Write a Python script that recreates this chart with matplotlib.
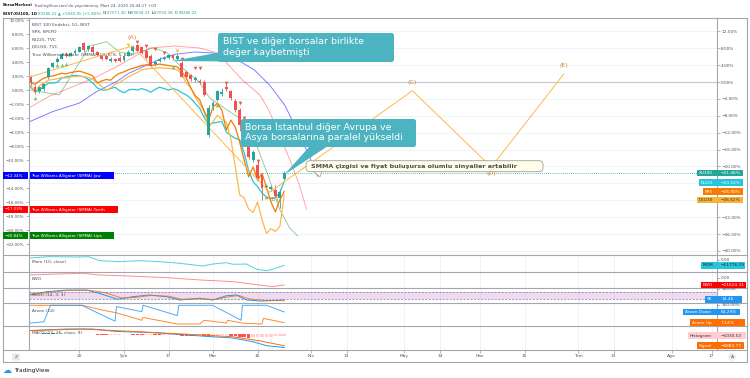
import numpy as np
import matplotlib.pyplot as plt
from matplotlib.patches import Rectangle, Polygon, FancyBboxPatch, Circle

plt.rcParams['font.family'] = ['DejaVu Sans']

W, H = 750, 378

# ---------------- veriler (gün indeksi 0 = 3 Ocak 2020) ----------------
# BIST 100 mumları, sol eksen % değerleri
xu_open = [1.8, 0.5, -0.2, 0.1, 1.8, 3.3, 4.0, 4.5, 5.2, 4.9,
           5.3, 5.5, 6.7, 5.8, 6.2, 5.4, 4.8, 4.9, 4.2, 4.4,
           4.6, 4.3, 4.9, 5.6, 6.4, 6.2, 5.6, 4.9, 3.7, 4.1,
           4.5, 4.6, 5.0, 4.5, 3.9, 2.6, 2.1, 1.5, 1.3, 1.2,
           -6.4, -2.3, -1.4, -0.6, 0.5, -0.2, -1.6, -2.9, -5.0, -7.1,
           -10.0, -10.7, -12.1, -13.9, -14.1, -14.3, -15.4, -12.7]
xu_close = [1.0, -0.3, 0.4, 0.8, 3.1, 3.8, 4.5, 5.1, 4.9, 5.3,
            5.6, 6.2, 5.7, 6.3, 5.5, 5.0, 4.5, 4.5, 4.5, 4.2,
            4.2, 4.9, 5.5, 6.2, 5.6, 5.3, 4.6, 3.5, 4.0, 4.4,
            4.6, 5.0, 4.6, 4.9, 1.9, 1.9, 1.6, 1.7, 1.1, -0.7,
            -2.5, -1.9, -0.2, -0.3, 0.2, -1.2, -2.9, -5.0, -5.7, -9.5,
            -8.8, -12.6, -14.0, -13.7, -13.9, -15.1, -14.5, -11.8]
xu_high = [2.1, 0.7, 0.6, 1.0, 3.3, 4.0, 4.7, 5.3, 5.4, 5.5,
           5.8, 6.3, 6.9, 6.5, 6.4, 5.6, 5.0, 5.1, 4.7, 4.6,
           4.8, 5.1, 5.7, 6.4, 6.6, 6.3, 5.8, 5.1, 4.3, 4.7,
           4.9, 5.2, 5.2, 5.1, 4.1, 2.8, 2.3, 2.0, 1.6, 1.4,
           -2.2, -1.5, 0.0, 0.3, 0.8, 0.0, -1.3, -2.6, -4.7, -6.8,
           -8.5, -10.3, -11.8, -13.4, -13.6, -13.6, -14.2, -11.6]
xu_low = [0.7, -0.5, -0.4, -0.1, 1.6, 3.2, 3.9, 4.4, 4.7, 4.8,
          5.1, 5.4, 5.5, 5.6, 5.3, 4.8, 4.3, 4.3, 4.0, 4.0,
          4.0, 4.2, 4.8, 5.5, 5.4, 5.1, 4.4, 3.3, 3.5, 4.0,
          4.3, 4.4, 4.4, 4.3, 1.8, 1.6, 1.3, 1.2, 0.8, -0.9,
          -6.7, -2.8, -1.6, -0.8, -0.1, -1.4, -3.2, -5.8, -6.1, -9.8,
          -10.3, -13.0, -15.7, -14.2, -14.4, -15.3, -16.8, -12.9]

# karşılaştırma sembolleri (sol eksen %)
spx = [1.1, 0.8, 1.3, 1.7, 1.9, 2.0, 2.2, 2.4, 2.3, 2.5,
       2.6, 2.7, 2.5, 2.3, 2.0, 1.0, 1.3, 1.5, 1.4, 2.0,
       2.4, 2.6, 2.9, 3.1, 3.3, 3.5, 3.6, 3.5, 3.6, 3.7,
       3.6, 3.5, 3.4, 3.3, 2.6, 1.7, 0.3, -0.8, -1.4, -3.0,
       -4.3, -2.4, -1.9, -2.9, -5.7, -4.3, -5.3, -7.5, -10.0, -12.4,
       -11.0, -12.9, -11.9, -13.9, -16.0, -17.4, -15.7, -14.5]
ni225 = [0.6, -0.3, 0.0, 0.5, 1.0, 1.0, 1.1, 1.7, 1.9, 2.0,
         2.1, 2.0, 1.9, 1.5, 1.0, 0.3, 0.0, 0.0, 0.2, 0.4,
         -0.1, -0.4, 0.0, 0.1, 0.0, 0.2, 0.0, -0.3, 0.1, 0.4,
         0.2, 0.0, 0.2, 0.0, -0.4, -0.7, -1.2, -1.9, -2.6, -3.9,
         -5.0, -4.7, -4.6, -4.5, -6.0, -6.5, -6.9, -7.1, -9.0, -11.5,
         -13.1, -13.8, -14.7, -15.3, -15.5, -15.4, -14.6, -13.1]
deu30 = [0.4, -0.3, 0.6, 1.0, 1.4, 1.5, 1.6, 1.8, 1.7, 1.9,
         1.9, 2.0, 1.9, 1.8, 1.5, 1.1, 0.5, 0.0, 0.3, 0.8,
         1.1, 1.5, 1.9, 2.2, 2.5, 2.9, 3.0, 3.1, 3.1, 3.2,
         3.1, 3.1, 3.0, 2.9, 2.2, 1.0, 0.3, -1.0, -2.0, -3.1,
         -5.3, -4.5, -3.6, -4.2, -4.6, -7.0, -11.0, -15.0, -15.4, -17.0,
         -17.5, -16.0, -18.5, -20.5, -19.8, -20.2, -19.5, -15.0]

# Alligator (ileri kaydırılmış)
jaw_x = [-0.2, 4.9, 11.0, 14.8, 19.3, 22.2, 26.1, 29.7, 32.8, 36.9, 40.9, 45.8, 50.3, 53.7, 57.1, 60.4, 62.7, 64.5]
jaw = [-4.53, -3.1, -1.86, -0.24, 1.19, 2.43, 3.57, 4.57, 5.14, 5.43, 5.29, 4.57, 2.86, 0.71, -2.14, -6.43, -9.57, -12.34]
teeth_x = [0, 4.3, 11.0, 14.8, 20.0, 26.7, 32.4, 38.0, 42.0, 47.6, 51.5, 53.3, 56.0, 58.7, 60.4, 62.0]
teeth = [-2.43, -0.86, 0.86, 1.86, 3.57, 6.0, 6.29, 6.0, 5.29, 1.43, -0.7, -2.6, -6.4, -10.7, -13.57, -17.03]
lips_x = [0, 6.5, 8.8, 13.3, 17.1, 20.0, 22.9, 27.4, 30.6, 34.2, 38.0, 40.2, 43.6, 47.0, 50.3, 53.3, 56.0, 58.2, 60.0]
lips = [0.0, -0.7, 1.7, 6.3, 6.9, 5.4, 5.1, 6.0, 5.4, 3.1, 1.1, -1.1, -2.6, -4.0, -7.1, -12.1, -17.1, -19.7, -20.84]

# fraktal işaretleri
frac_up_x = [1, 6, 7, 8, 32, 42, 53]
frac_up = [-1.2, 3.6, 3.6, 3.7, 3.3, -2.2, -15.3]
frac_dn_x = [24, 26, 28, 30, 34, 37, 38, 44, 47, 48, 51]
frac_dn = [6.9, 6.3, 5.9, 5.3, 4.5, 3.1, 3.1, 1.0, -1.9, -4.0, -10.2]
frac_yl_x = [18, 22, 33]
frac_yl = [5.3, 6.5, 5.6]

# ABCDE formasyonu
pat_x = [0, 22.9, 53.7, 85.8, 103.5, 119.8]
pat_y = [1.9, 6.3, -14.6, -0.1, -11.0, 2.3]
pat_lbl = ['', '(A)', '(B)', '(C)', '(D)', '(E)']

# alt paneller
mom_x = [0, 4, 11, 13, 15.5, 20, 24.5, 29, 33.5, 38.7, 41, 44, 45.4, 48.5, 50.8, 53, 54.4, 57]
mom = [4400, 7400, 6700, 7400, -1500, -3700, -1500, -3700, -7300, -13300, -8900, -6000, -9500, -8900,
       -20600, -23800, -20600, -11776]
ewo_x = [0, 5, 11.7, 15.5, 22, 30.6, 38, 45.4, 49.9, 54.4, 57]
ewo = [8000, 10500, 13000, 8000, 5000, 0, -6800, -11800, -19500, -26600, -21624]
stoch_k_x = [0, 3.6, 8, 12.6, 15.5, 19.5, 22.9, 26.7, 30.6, 33.5, 38, 40.9, 44, 46.3, 48.5, 52, 57]
stoch_k = [54, 80, 93, 93, 67, 20, 40, 54, 40, 14, 28, 14, 48, 54, 14, 6, 14.46]
stoch_d_x = [0, 4, 8.5, 13, 16.5, 20.5, 23.5, 27, 31, 34, 38.5, 41.5, 44.5, 46.8, 49, 52.5, 57]
stoch_d = [60, 75, 90, 92, 75, 30, 35, 50, 45, 20, 24, 18, 40, 50, 24, 10, 9]
aroon_dn_x = [0, 3, 4.5, 11.5, 19.0, 19.3, 25.0, 25.3, 33.0, 33.3, 40.9, 47.3, 47.6, 53, 57]
aroon_dn = [5, 12, 100, 100, 15, 93, 66, 100, 45, 100, 100, 20, 100, 100, 64.29]
aroon_up_x = [0, 11.7, 16, 19.3, 25, 25.3, 33, 38, 39, 44, 44.3, 47.5, 52, 52.3, 57]
aroon_up = [100, 100, 75, 60, 20, 35, 0, 0, 20, 5, 20, 5, 0, 30, 7.14]
macd_x = [0, 8, 14, 19.3, 26.7, 34.2, 39.5, 45.4, 49.9, 53, 57]
macd = [2000, 2900, 2900, 1500, 900, -400, -1400, -2300, -4500, -6800, -7915]
signal_x = [0, 11.7, 22.9, 34.2, 45.4, 51.5, 57]
signal = [2000, 2900, 1500, 0, -1600, -4000, -6885]
hist = [150, 200, 250, 300, 350, 400, 350, 300, 250, 200,
        150, 100, 50, 0, -100, -300, -500, -600, -500, -400,
        -300, -200, -150, -300, -400, -500, -400, -300, -500, -700,
        -600, -500, -400, -600, -900, -1100, -1200, -1000, -900, -1100,
        -1300, -1200, -1000, -800, -700, -900, -1200, -1600, -1900, -2100,
        -2000, -1900, -1800, -1600, -1500, -1300, -1200, -1030]

tick_pos = [11, 21, 31, 41, 51, 63, 71, 84, 92, 101, 111, 123, 131, 144, 153]
tick_lbl = ['20', 'Şub', '17', 'Mar', '16', 'Nis', '13', 'May', '14', 'Haz', '15', 'Tem', '13', 'Ağu', '17']
# -12% tiki Jaw etiketinin arkasında kalıyor
left_ticks = [10, 8, 6, 4, 2, 0, -2, -4, -6, -8, -10, -14, -16, -18, -20, -22]
right_ticks = list(range(12, -41, -4))

XMIN, XMAX = -0.45, 154.2
GRID = '#eef1f6'
TXT = '#50535e'
UP, DN = '#26a69a', '#ef5350'


def pct(v):
    return ('%.2f%%' % v).replace('-', '−')


fig = plt.figure(figsize=(W / 100, H / 100), dpi=100)


def pane(x0, y0, x1, y1):
    a = fig.add_axes([x0 / W, 1 - y1 / H, (x1 - x0) / W, (y1 - y0) / H])
    for s in a.spines.values():
        s.set_visible(False)
    a.set_xlim(XMIN, XMAX)
    a.set_xticks(tick_pos)
    a.set_xticklabels([])
    a.tick_params(axis='both', length=0, labelbottom=False, labelleft=False)
    a.grid(axis='x', color=GRID, lw=0.6)
    a.set_axisbelow(True)
    return a


# ---------------- ana panel ----------------
ax = pane(28.5, 18, 717, 255)
ax.set_ylim(-23.57, 10.29)
ax2 = ax.twinx()
for s in ax2.spines.values():
    s.set_visible(False)
ax2.set_ylim(-40.95, 15.15)
ax.set_zorder(2)
ax2.set_zorder(1)
ax.patch.set_visible(False)
ax2.patch.set_visible(True)
ax2.patch.set_facecolor('white')
ax.grid(False)
ax2.grid(axis='both', color=GRID, lw=0.6)
ax2.set_yticks(right_ticks)
ax2.set_yticklabels([pct(v) for v in right_ticks])
ax2.tick_params(axis='y', length=2, width=0.5, color='#9598a1', labelsize=3.1, labelcolor=TXT, pad=1)
ax2.axhline(0, color='#c6c9d0', lw=0.9)

ax.set_yticks(left_ticks)
ax.set_yticklabels([pct(v) for v in left_ticks])
ax.tick_params(axis='y', length=2, width=0.5, color='#9598a1', labelsize=2.9, labelcolor=TXT,
               pad=1, labelleft=True)

days = np.arange(len(xu_close))
o, c = np.array(xu_open), np.array(xu_close)
cols = np.where(c >= o, UP, DN)
ax.vlines(days, xu_low, xu_high, colors=cols, lw=0.6, zorder=3)
ax.bar(days, np.maximum(np.abs(c - o), 0.12), bottom=np.minimum(o, c), width=0.65, color=cols, zorder=4)

ax.plot(jaw_x, jaw, color='#0000ff', alpha=0.5, lw=0.7, zorder=2)
ax.plot(teeth_x, teeth, color='#ff0000', alpha=0.35, lw=0.7, zorder=2)
ax.plot(lips_x, lips, color='#008000', alpha=0.4, lw=0.7, zorder=2)

ax.plot(days, ni225, color='#26c6da', lw=0.9, zorder=3)
ax.plot(days, deu30, color='#ffb74d', lw=0.9, zorder=3)
ax.plot(days, spx, color='#f57c00', lw=0.9, zorder=3)

ax.plot(pat_x, pat_y, color='#ffb74d', lw=0.7, zorder=3)
for px_, py_, lb in zip(pat_x, pat_y, pat_lbl):
    if not lb:
        continue
    dy = 6 if lb in ('(A)', '(C)', '(E)') else -5
    dx = 3 if lb == '(B)' else 0
    ax.annotate(lb, (px_, py_), xytext=(dx, dy), textcoords='offset points', ha='center', va='center',
                fontsize=4.6, color='#cf8a2e', zorder=6)

ax.plot(frac_up_x, frac_up, '^', color='#7cc36b', ms=2.6, mec='none', zorder=5)
ax.plot(frac_dn_x, frac_dn, 'v', color='#ef5350', ms=2.6, mec='none', zorder=5)
ax.plot(frac_yl_x, frac_yl, 'v', color='#fbc02d', ms=2.6, mec='none', zorder=5)

ax.axhline(xu_close[-1], color=UP, ls=(0, (1, 1.5)), lw=0.6, zorder=1)

# ---------------- alt paneller ----------------
a_mom = pane(28.5, 255, 717, 272)
a_mom.set_ylim(-26640, 11100)
a_mom.plot(mom_x, mom, color='#26c6da', alpha=0.8, lw=0.7)

a_ewo = pane(28.5, 272, 717, 288)
a_ewo.set_ylim(-30800, 16880)
a_ewo.plot(ewo_x, ewo, color='#ff0000', alpha=0.45, lw=0.7)

a_st = pane(28.5, 288, 717, 303)
a_st.set_ylim(-9.5, 109.5)
a_st.axhspan(20, 80, color='#9c27b0', alpha=0.17, lw=0)
a_st.axhline(80, color='#787b86', lw=0.5, ls=(0, (3, 2)))
a_st.axhline(20, color='#787b86', lw=0.5, ls=(0, (3, 2)))
a_st.plot(stoch_k_x, stoch_k, color='#2196f3', lw=0.7)
a_st.plot(stoch_d_x, stoch_d, color='#ff6d00', lw=0.7, alpha=0.8)

a_ar = pane(28.5, 303, 717, 326)
a_ar.set_ylim(-10.7, 112.3)
a_ar.plot(aroon_up_x, aroon_up, color='#ff6d00', lw=0.7, alpha=0.8)
a_ar.plot(aroon_dn_x, aroon_dn, color='#2196f3', lw=0.7, alpha=0.8)

a_md = pane(28.5, 326, 717, 350)
a_md.set_ylim(-9360, 4680)
hcol = []
for i, v in enumerate(hist):
    prev = hist[i - 1] if i else v
    if v >= 0:
        hcol.append('#26a69a' if v >= prev else '#b2dfdb')
    else:
        hcol.append('#ff5252' if v < prev else '#ffcdd2')
a_md.bar(days, hist, width=0.8, color=hcol, lw=0)
a_md.plot(macd_x, macd, color='#2196f3', lw=0.7)
a_md.plot(signal_x, signal, color='#ff6d00', lw=0.7)
a_md.set_xticklabels(tick_lbl)
a_md.tick_params(axis='x', length=2, width=0.5, color='#9598a1', labelbottom=True, labelsize=3.2,
                 labelcolor=TXT, pad=1.2)

# ---------------- üst katman: çerçeve, etiketler, notlar ----------------
ov = fig.add_axes([0, 0, 1, 1], zorder=10)
ov.set_xlim(0, W)
ov.set_ylim(H, 0)
ov.axis('off')
ov.patch.set_visible(False)

LC = '#a3a6af'
for yy in (18, 255, 272, 288, 303, 326, 350, 362):
    ov.plot([3, 747], [yy, yy], color=LC, lw=0.8)
for xx, y1 in ((3, 362), (28.5, 350), (717, 350), (747, 362)):
    ov.plot([xx, xx], [18, y1], color=LC, lw=0.8)


def seq_text(x, y, parts, size):
    r = fig.canvas.get_renderer()
    for s, col, wt in parts:
        t = ov.text(x, y, s, color=col, fontsize=size, fontweight=wt, va='center', ha='left')
        x += t.get_window_extent(renderer=r).width


seq_text(3, 5.5, [('BorsaMerkezi', '#131722', 'bold'),
                  (" TradingView.com'da yayınlanmış, Mart 24, 2020 20:44:17 +03", '#50535e', 'normal')], 2.8)
tl = '#26a69a'
seq_text(3, 13.5, [('BIST:XU100, 1D ', '#131722', 'bold'), ('89286.22 ▲ +5040.05 (+5.98%) ', tl, 'normal'),
                   ('O:', '#131722', 'normal'), ('87571.40 ', tl, 'normal'),
                   ('H:', '#131722', 'normal'), ('89638.33 ', tl, 'normal'),
                   ('L:', '#131722', 'normal'), ('87050.38 ', tl, 'normal'),
                   ('C:', '#131722', 'normal'), ('89286.22', tl, 'normal')], 2.8)

legend_main = ['BIST 100 Endeksi, 1G, BIST', 'SPX, SPCFD', 'NI225, TVC', 'DEU30, TVC',
               'True Williams Alligator (SMMA) (13, 8, 8, 5, 5, 3)']
for k, s in enumerate(legend_main):
    ov.text(32, 25 + 7.4 * k, s, fontsize=3.1, color='#4a4d57', va='center')
for yy, s in ((262, 'Mom (10, close)'), (279, 'EWO'), (294.7, 'Stoch (14, 3, 3)'),
              (310.5, 'Aroon (14)'), (333, 'MACD (12, 26, close, 9)')):
    ov.text(32, yy, s, fontsize=3.1, color='#4a4d57', va='center')


def tag(x0, x1, yc, fc, parts, h=6.6, size=3.1):
    ov.add_patch(Rectangle((x0, yc - h / 2), x1 - x0, h, fc=fc, ec='none', zorder=20))
    for xx, s, col in parts:
        ov.text(xx, yc + 0.2, s, fontsize=size, color=col, va='center', ha='left', zorder=21)


tag(3, 28, 175.7, '#0000ff', [(4.2, '−12.34%', 'w')], size=2.9)
tag(30, 114, 175.7, '#0000ff', [(31.5, 'True Williams Alligator (SMMA):Jaw', 'w')], size=2.9)
tag(3, 28, 209.3, '#ff0000', [(4.2, '−17.03%', 'w')], size=2.9)
tag(30, 118, 209.3, '#ff0000', [(31.5, 'True Williams Alligator (SMMA):Teeth', 'w')], size=2.9)
tag(3, 28, 235.7, '#008000', [(4.2, '−20.84%', 'w')], size=2.9)
tag(30, 114, 235.7, '#008000', [(31.5, 'True Williams Alligator (SMMA):Lips', 'w')], size=2.9)

tag(697, 743, 173, '#26a69a', [(699, 'XU100', 'w'), (721, '−21.46%', 'w')])
tag(699, 743, 182.5, '#26c6da', [(701, 'NI225', 'w'), (721, '−23.52%', 'w')])
tag(703, 743, 191.5, '#f57c00', [(705, 'SPX', 'w'), (721, '−25.90%', 'w')])
tag(697, 743, 200, '#f9b233', [(699, 'DEU30', '#333'), (721, '−26.62%', '#333')])
tag(701, 745, 265.3, '#26c6da', [(703, 'MOM', '#222'), (721, '−11776.29', '#222')])
tag(701, 746, 285, '#ff0000', [(703, 'EWO', 'w'), (721, '−21624.31', 'w')])
tag(705, 742, 299.3, '#2196f3', [(707, 'SK', 'w'), (721, '14.46', 'w')])
tag(683, 740, 312, '#2196f3', [(685, 'Aroon Down', 'w'), (721, '64.29%', 'w')])
tag(690, 745, 322.7, '#ff6d00', [(692, 'Aroon Up', 'w'), (721, '7.14%', 'w')])
tag(688, 746, 335.7, '#ffcdd2', [(690, 'Histogram', '#333'), (721, '−1030.53', '#333')])
tag(697, 744, 345.7, '#ff6d00', [(699, 'Signal', 'w'), (721, '−6884.73', 'w')])

for yy, s in ((260, '0.00'), (277.7, '0.00'), (289.2, '100.00'), (305.3, '100.00%')):
    ov.text(721, yy, s, fontsize=3.1, color=TXT, va='center', ha='left')
    ov.plot([717, 719], [yy, yy], color='#9598a1', lw=0.5)

# notlar
CAL = '#4bb4c0'
ov.add_patch(FancyBboxPatch((218, 33), 176, 29, boxstyle='round,pad=0,rounding_size=2.5',
                            fc=CAL, ec='none', zorder=22))
ov.add_patch(Polygon([(222, 52), (226, 61.5), (172, 61)], closed=True, fc=CAL, ec='none', zorder=22))
ov.text(223, 41.5, 'BIST ve diğer borsalar birlikte', color='w', fontsize=6.8, va='center', zorder=23)
ov.text(223, 52.5, 'değer kaybetmişti', color='w', fontsize=6.8, va='center', zorder=23)

ov.add_patch(FancyBboxPatch((241, 119), 175, 28, boxstyle='round,pad=0,rounding_size=2.5',
                            fc=CAL, ec='none', zorder=22))
ov.add_patch(Polygon([(310, 146), (328, 146), (284, 175)], closed=True, fc=CAL, ec='none', zorder=22))
ov.text(245, 127.3, 'Borsa İstanbul diğer Avrupa ve', color='w', fontsize=6.8, va='center', zorder=23)
ov.text(245, 138, 'Asya borsalarına paralel yükseldi', color='w', fontsize=6.8, va='center', zorder=23)

ov.add_patch(Polygon([(313, 171), (322, 171), (320, 177)], closed=True, fc='#fffde7', ec='#9e9e9e',
                     lw=0.5, zorder=22))
ov.add_patch(FancyBboxPatch((306, 160.7), 237, 11, boxstyle='round,pad=0,rounding_size=4',
                            fc='#fffde7', ec='#9e9e9e', lw=0.6, zorder=22))
ov.text(311, 166.3, 'SMMA çizgisi ve fiyat buluşursa olumlu sinyaller artabilir', color='#4a4d57',
        fontsize=4.6, fontweight='bold', va='center', zorder=23)

# alt ikonlar
ov.add_patch(FancyBboxPatch((12, 353.5), 8, 7, boxstyle='round,pad=0,rounding_size=1.5',
                            fc='#e9ebef', ec='none'))
ov.text(16, 357.2, 'Z', fontsize=3.2, color=TXT, ha='center', va='center')
ov.add_patch(Circle((732, 357), 3.8, fc='#e9ebef', ec='none'))
ov.text(732, 357.2, 'A', fontsize=3.2, color=TXT, ha='center', va='center')

ov.text(3, 370.5, '☁', fontsize=6.5, color='#2196f3', va='center', ha='left')
ov.text(14, 370.8, 'TradingView', fontsize=4.2, color='#131722', va='center', ha='left')

fig.savefig('out.png', dpi=100)
